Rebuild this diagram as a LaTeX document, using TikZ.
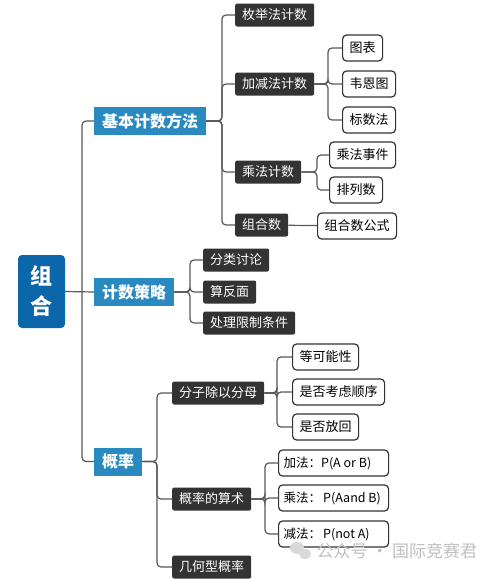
\documentclass[tikz,border=0pt]{standalone}
\usepackage{fontspec}
\setmainfont{Noto Sans CJK SC}
\usepackage{tikz}
\usetikzlibrary{calc}
\definecolor{RootBlue}{HTML}{0B67A9}
\definecolor{TopicBlue}{HTML}{2A89BF}
\definecolor{Dark}{HTML}{333333}
\definecolor{Line}{HTML}{585858}

\begin{document}
\begin{tikzpicture}[x=1pt,y=-1pt,
  root/.style={fill=RootBlue,text=white,rounded corners=4pt,minimum width=47pt,
    minimum height=73pt,align=center,font=\fontsize{22}{30}\selectfont\bfseries},
  topic/.style={anchor=west,fill=TopicBlue,text=white,inner xsep=8pt,minimum height=28pt,
    font=\fontsize{16}{18}\selectfont\bfseries},
  sub/.style={anchor=west,fill=Dark,text=white,rounded corners=2pt,inner xsep=7pt,
    minimum height=23pt,font=\fontsize{13}{14}\selectfont},
  leaf/.style={anchor=west,draw=Dark,line width=1.2pt,fill=white,rounded corners=4pt,
    inner xsep=7pt,minimum height=26pt,font=\fontsize{13}{15}\selectfont},
  link/.style={draw=Line,line width=1.2pt,rounded corners=4pt}]
\useasboundingbox (0,0) rectangle (491,579);

\node[root] (zh) at (41.5,291.5) {组\\合};

\node[topic] (jb) at (94,121) {基本计数方法};
\node[topic] (cl) at (94,292) {计数策略};
\node[topic] (gl) at (94,461.5) {概率};

% branch columns
\foreach \b/\x in {b0/82, b1/222, b2/328, b3/317, b4/190, b5/157, b6/277, b7/265}
  \coordinate (\b) at (\x,0);

\foreach \n/\y/\t in {mj/15/枚举法计数, jj/84/加减法计数, cf/172/乘法计数, zs/225/组合数,
                      fl/260/分类讨论, sf/292/算反面, xz/323/处理限制条件,
                      fz/393/分子除以分母, ss/499/概率的算术, jh/567/几何型概率}
  \node[sub] (\n) at (\ifnum\y<240 235\else\ifnum\y<340 203\else 172\fi\fi,\y) {\t};

\foreach \n/\x/\y/\t in {tb/342/48/图表, wn/342/84/韦恩图, bs/342/120/标数法,
                         sj/329/155/乘法事件, pl/329/190/排列数, gs/317/226/组合数公式,
                         dk/292/357/等可能性, sx/292/392/是否考虑顺序, fh/292/427/是否放回}
  \node[leaf] (\n) at (\x,\y) {\t};

\foreach \n/\y/\t in {add/463/加法：P(A or B), mul/498/乘法：\,P(Aand B), sub/534/减法：\,P(not A)}
  \node[leaf,inner xsep=5pt,font=\fontsize{12.5}{15}\selectfont]
    (\n) at (278,\y) {\makebox[100pt][l]{\t}};

% trunk
\draw[link] (zh.east) -- (cl.west);
\draw[link] (jb.west) -- (jb.west -| b0) -- (gl.west -| b0) -- (gl.west);

\foreach \p/\c/\b in {jb/mj/b1, jb/jj/b1, jb/cf/b1, jb/zs/b1,
                      jj/tb/b2, jj/wn/b2, jj/bs/b2, cf/sj/b3, cf/pl/b3,
                      cl/fl/b4, cl/sf/b4, cl/xz/b4,
                      gl/fz/b5, gl/ss/b5, gl/jh/b5,
                      fz/dk/b6, fz/sx/b6, fz/fh/b6,
                      ss/add/b7, ss/mul/b7, ss/sub/b7}
  \draw[link] (\p.east) -- (\p.east -| \b) |- (\c.west);
\draw[link] (zs) -- (gs);

% watermark
\fill[gray!30] (297,548) ellipse (7pt and 6pt);
\fill[gray!30] (305,554) ellipse (6pt and 5pt);
\node[anchor=west,text=gray!50,font=\fontsize{17}{20}\selectfont] (wm) at (313,551) {公众号 · 国际竞赛君};
\end{tikzpicture}
\end{document}
